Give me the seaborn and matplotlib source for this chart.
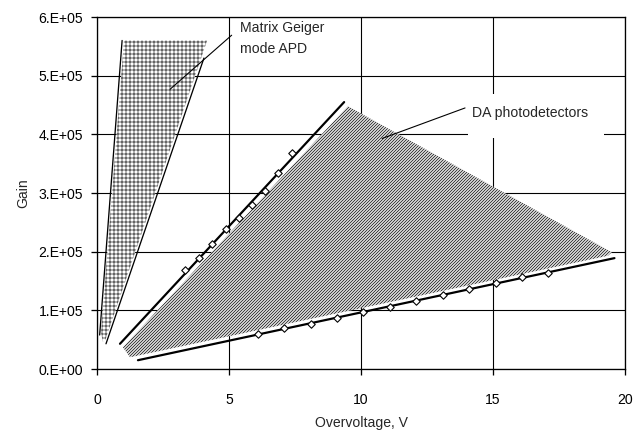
import matplotlib
matplotlib.use("Agg")
import matplotlib.pyplot as plt
from matplotlib.patches import Polygon, Rectangle
import seaborn as sns
import pandas as pd

# Measured gain vs overvoltage for the two DA photodetector samples
upper_v = [3.33, 3.86, 4.36, 4.88, 5.37, 5.87, 6.36, 6.86, 7.39]
upper_gain = [1.69e5, 1.89e5, 2.13e5, 2.38e5, 2.57e5, 2.79e5, 3.03e5, 3.34e5, 3.68e5]
lower_v = [6.1, 7.08, 8.1, 9.09, 10.08, 11.1, 12.08, 13.1, 14.09, 15.1, 16.1, 17.08]
lower_gain = [0.60e5, 0.70e5, 0.77e5, 0.87e5, 0.97e5, 1.06e5, 1.16e5, 1.26e5,
              1.36e5, 1.47e5, 1.57e5, 1.64e5]

# Linear fits through each series
fit_upper_v = [0.87, 9.36]
fit_upper_gain = [0.43e5, 4.55e5]
fit_lower_v = [1.55, 19.6]
fit_lower_gain = [0.15e5, 1.89e5]

# Boundaries of the Matrix Geiger-mode APD band
geiger_left_v = [0.10, 0.95]
geiger_left_gain = [0.58e5, 5.60e5]
geiger_right_v = [0.34, 4.05]
geiger_right_gain = [0.43e5, 5.30e5]
geiger_area_v = [0.15, 1.02, 4.17, 0.32, 0.22]
geiger_area_gain = [0.62e5, 5.60e5, 5.60e5, 0.50e5, 0.47e5]

# Region covered by DA photodetectors
da_area_v = [0.98, 9.50, 19.50, 19.35, 1.25]
da_area_gain = [0.37e5, 4.48e5, 1.99e5, 1.93e5, 0.20e5]

x_ticks = [0, 5, 10, 15, 20]
y_ticks = [0, 1e5, 2e5, 3e5, 4e5, 5e5, 6e5]
y_tick_labels = ["0.E+00", "1.E+05", "2.E+05", "3.E+05", "4.E+05", "5.E+05", "6.E+05"]

sns.set_style("ticks")
plt.rcParams["font.family"] = ["Liberation Sans", "DejaVu Sans"]
plt.rcParams["hatch.linewidth"] = 1.0

# 72 dpi: one point equals one pixel, so hatch spacing lands on whole pixels
DPI = 72
fig = plt.figure(figsize=(640 / DPI, 432 / DPI), dpi=DPI)
ax = fig.add_axes([0.1516, 0.1458, 0.825, 0.8148])

ax.set_xlim(0, 20)
ax.set_ylim(0, 6e5)

# shaded regions (white fill hides the grid underneath)
ax.add_patch(Polygon(list(zip(geiger_area_v, geiger_area_gain)), closed=True,
                     facecolor="white", edgecolor="#666666", linewidth=0,
                     hatch="+++", zorder=2))
ax.add_patch(Polygon(list(zip(da_area_v, da_area_gain)), closed=True,
                     facecolor="white", edgecolor="#333333", linewidth=0,
                     hatch="////////", zorder=2))

# boundary and fit lines
sns.lineplot(x=geiger_left_v, y=geiger_left_gain, color="black", lw=1.3, ax=ax, zorder=3)
sns.lineplot(x=geiger_right_v, y=geiger_right_gain, color="black", lw=1.3, ax=ax, zorder=3)
sns.lineplot(x=fit_upper_v, y=fit_upper_gain, color="black", lw=2.2, ax=ax, zorder=3)
sns.lineplot(x=fit_lower_v, y=fit_lower_gain, color="black", lw=2.2, ax=ax, zorder=3)

# measured points
pts = pd.DataFrame({"v": upper_v + lower_v, "gain": upper_gain + lower_gain})
sns.scatterplot(data=pts, x="v", y="gain", marker="D", s=28, facecolor="white",
                edgecolor="black", linewidth=1.1, ax=ax, zorder=4)

# annotations
ax.plot([2.77, 5.1], [4.77e5, 5.69e5], color="black", lw=1.1, zorder=3)
ax.text(5.42, 5.64e5, "Matrix Geiger\nmode APD", fontsize=14, va="center",
        ha="left", linespacing=1.65, zorder=5)

ax.add_patch(Rectangle((14.05, 3.94e5), 5.15, 0.74e5, facecolor="white",
                       edgecolor="none", zorder=1.5))
ax.plot([10.8, 13.94], [3.93e5, 4.45e5], color="black", lw=1.1, zorder=3)
ax.text(14.2, 4.36e5, "DA photodetectors", fontsize=14, va="center", ha="left", zorder=5)

# grid, ticks and labels
ax.grid(True, color="black", lw=1.1)
ax.set_axisbelow(True)
for s in ax.spines.values():
    s.set_color("black")
    s.set_linewidth(1.3)
ax.set_xticks(x_ticks)
ax.set_yticks(y_ticks)
ax.set_yticklabels(y_tick_labels)
ax.tick_params(axis="x", direction="out", length=6, width=1.3, pad=18, labelsize=14,
               colors="black")
ax.tick_params(axis="y", direction="out", length=6, width=1.3, pad=8, labelsize=14,
               colors="black")
ax.set_xlabel("Overvoltage, V", fontsize=14, labelpad=9)
ax.set_ylabel("Gain", fontsize=14, labelpad=8)

fig.savefig("out.png", dpi=DPI)
